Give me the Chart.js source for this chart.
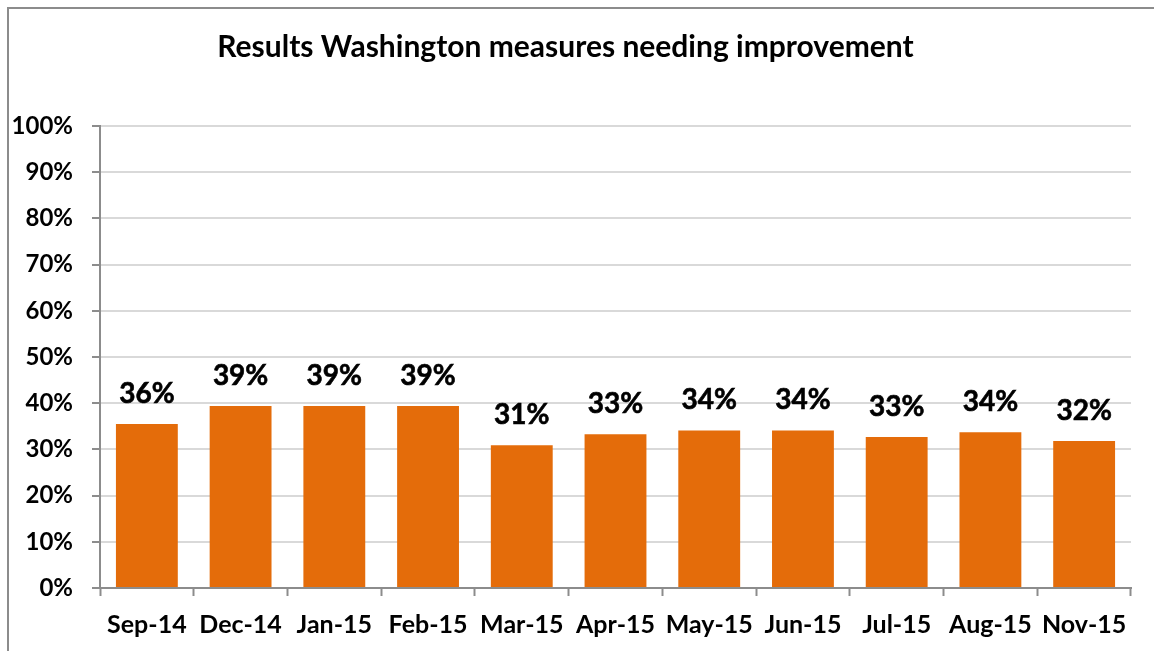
<!DOCTYPE html>
<html>
<head>
  <title>Results Washington measures needing improvement</title>
  <style>
    html, body {
      margin: 0;
      padding: 0;
      background: #fff;
      overflow: hidden;
    }
    #wrap {
      position: relative;
      width: 1154px;
      height: 651px;
    }
    #frame {
      position: absolute;
      left: 7px;
      top: 7px;
      width: 1200px;
      height: 700px;
      border: 2px solid #8c8c8c;
      box-sizing: border-box;
    }
    #chart {
      position: absolute;
      left: 0;
      top: 0;
    }
  </style>
</head>
<body>
  <div id="wrap">
    <div id="frame"></div>
    <canvas id="chart" width="1154" height="651"></canvas>
  </div>

  <script src="https://cdn.jsdelivr.net/npm/chart.js"></script>
  <script>
    const months = ["Sep-14", "Dec-14", "Jan-15", "Feb-15", "Mar-15", "Apr-15",
                    "May-15", "Jun-15", "Jul-15", "Aug-15", "Nov-15"];
    const needingImprovement = [35.5, 39.4, 39.4, 39.4, 30.9, 33.3, 34.1, 34.1, 32.7, 33.7, 31.8];
    const pctLabels = ["36%", "39%", "39%", "39%", "31%", "33%", "34%", "34%", "33%", "34%", "32%"];

    const fontFamily = "Lato, 'Open Sans', sans-serif";

    // draw the value above each bar
    const barLabels = {
      id: 'barLabels',
      afterDatasetsDraw(chart) {
        const ctx = chart.ctx;
        const meta = chart.getDatasetMeta(0);
        ctx.save();
        ctx.font = `bold 28px ${fontFamily}`;
        ctx.fillStyle = '#000';
        ctx.strokeStyle = '#000';
        ctx.lineWidth = 0.6;
        ctx.textAlign = 'center';
        ctx.textBaseline = 'alphabetic';
        meta.data.forEach((bar, i) => {
          ctx.fillText(pctLabels[i], bar.x, bar.y - 21);
          ctx.strokeText(pctLabels[i], bar.x, bar.y - 21);
        });
        ctx.restore();
      }
    };

    const ctx = document.getElementById('chart').getContext('2d');
    new Chart(ctx, {
      type: 'bar',
      data: {
        labels: months,
        datasets: [{
          data: needingImprovement,
          backgroundColor: '#E46C0A',
          borderWidth: 0,
          barPercentage: 0.66,
          categoryPercentage: 1
        }]
      },
      options: {
        responsive: false,
        animation: false,
        layout: { padding: { left: 0, right: 23, top: 0, bottom: 0 } },
        plugins: {
          legend: { display: false },
          tooltip: { enabled: false },
          title: {
            display: true,
            text: 'Results Washington measures needing improvement',
            color: '#000',
            font: { family: fontFamily, size: 30, weight: 'bold', lineHeight: 1.2 },
            padding: { top: 29, bottom: 61 }
          }
        },
        scales: {
          x: {
            grid: {
              display: true,
              offset: true,
              drawOnChartArea: false,
              drawTicks: true,
              tickLength: 8,
              tickColor: '#8c8c8c',
              tickWidth: 2
            },
            border: { color: '#8c8c8c', width: 2 },
            ticks: {
              color: '#000',
              padding: 14,
              maxRotation: 0,
              autoSkip: false,
              font: { family: fontFamily, size: 25, weight: 'bold' }
            },
            afterFit(scale) { scale.height = 63; }
          },
          y: {
            min: 0,
            max: 100,
            ticks: {
              stepSize: 10,
              color: '#000',
              padding: 19,
              font: { family: fontFamily, size: 24, weight: 'bold' },
              callback: v => v + '%'
            },
            grid: {
              color: '#d9d9d9',
              lineWidth: 2,
              tickLength: 8,
              tickColor: '#8c8c8c',
              tickWidth: 2
            },
            border: { color: '#8c8c8c', width: 2 },
            afterFit(scale) { scale.width = 100; }
          }
        }
      },
      plugins: [barLabels]
    });
  </script>
</body>
</html>
